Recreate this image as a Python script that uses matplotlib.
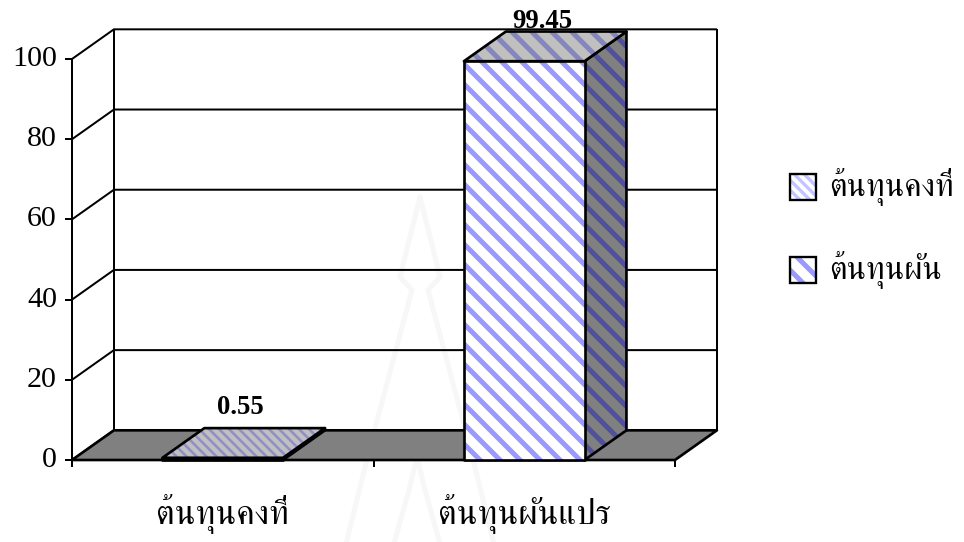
import matplotlib
matplotlib.use('Agg')
import matplotlib.pyplot as plt
from matplotlib.lines import Line2D
from matplotlib.patches import Polygon, Rectangle

plt.rcParams['font.family'] = ['Liberation Serif', 'FreeSerif', 'DejaVu Sans']

categories = ['ต้นทุนคงที่', 'ต้นทุนผันแปร']
values = [0.55, 99.45]
legend_labels = ['ต้นทุนคงที่', 'ต้นทุนผัน']
y_ticks = [0, 20, 40, 60, 80, 100]

W, H = 965, 542
DPI = 120
depth_x = 0.139   # depth of the fake 3d box, in category units
depth_y = 7.4     # same in value units
bar_w = 0.4

fig = plt.figure(figsize=(W / DPI, H / DPI), dpi=DPI)
ax = fig.add_axes([72 / W, 1 - 460 / H, 603 / W, 401 / H])
ax.set_xlim(0, len(categories))
ax.set_ylim(0, 100)
ax.axis('off')


def face(pts, color, hatch=None, stripe=None, lw=1.6, hatch_lw=3.0, z=3):
    # hatch colour comes from the edge, so the black outline is a second patch
    if hatch:
        plt.rcParams['hatch.linewidth'] = hatch_lw
        ax.add_patch(Polygon(pts, closed=True, facecolor=color, edgecolor=stripe, hatch=hatch,
                             linewidth=0, clip_on=False, zorder=z))
    else:
        ax.add_patch(Polygon(pts, closed=True, facecolor=color, edgecolor='none',
                             clip_on=False, zorder=z))
    ax.add_patch(Polygon(pts, closed=True, fill=False, edgecolor='black', linewidth=lw,
                         joinstyle='round', clip_on=False, zorder=z + 0.1))


def line(xs, ys, lw=1.2, z=2):
    ax.plot(xs, ys, color='black', lw=lw, clip_on=False, zorder=z, solid_capstyle='butt')


# faint scan watermark behind the chart, pixels from top left
mark_x = [347, 370, 412, 400, 420, 440, 428, 470, 493]
mark_y = [540, 447, 290, 277, 197, 277, 290, 447, 540]
inner_x = [395, 409, 417, 425, 439]
inner_y = [540, 490, 457, 490, 540]
for xs, ys in [(mark_x, mark_y), (inner_x, inner_y)]:
    fig.add_artist(Line2D([x / W for x in xs], [1 - y / H for y in ys], color='#F7F7F7', lw=3, zorder=0))

n = len(categories)

# walls and grid
for t in y_ticks:
    line([0, depth_x, n + depth_x], [t, t + depth_y, t + depth_y])
line([0, 0], [0, 100], lw=1.2, z=5)
line([depth_x, depth_x], [depth_y, 100 + depth_y])
line([n + depth_x, n + depth_x], [depth_y, 100 + depth_y])

# floor
face([(0, 0), (n, 0), (n + depth_x, depth_y), (depth_x, depth_y)], '#808080', lw=1.6, z=2.5)

# ticks
for t in y_ticks:
    ax.plot([0], [t], marker=0, ms=4.2, mew=1.2, color='black', clip_on=False, zorder=5)
    ax.text(-0.05, t, str(t), ha='right', va='center', fontsize=18, zorder=5)
for i in range(n + 1):
    ax.plot([i], [0], marker=3, ms=4, mew=1.2, color='black', clip_on=False, zorder=5)
for i, c in enumerate(categories):
    ax.text(i + 0.5, -13.4, c, ha='center', va='center', fontsize=20.6, zorder=5)

# bars, the small one gets the fine pattern
hatches = ['\\\\\\\\', '\\\\']
stripes_w = [1.6, 3.0]
for i, v in enumerate(values):
    x0, x1 = i + 0.5 - bar_w / 2, i + 0.5 + bar_w / 2
    hatch, hlw = hatches[i], stripes_w[i]
    top_stripe = '#9090C8' if i == 0 else '#8585C0'
    face([(x1, 0), (x1 + depth_x, depth_y), (x1 + depth_x, v + depth_y), (x1, v)],
         '#808080', hatch, '#50509C', hatch_lw=hlw, z=3)
    face([(x0, v), (x1, v), (x1 + depth_x, v + depth_y), (x0 + depth_x, v + depth_y)],
         '#C0C0C0', hatch, top_stripe, hatch_lw=hlw, z=3.2)
    face([(x0, 0), (x1, 0), (x1, v), (x0, v)],
         'white', hatch, '#9999FF', hatch_lw=hlw, z=3.4)
    # labels sit above the box, Excel pushes the tall one down against the chart top
    ax.text(i + 0.5 + depth_x / 2 - 0.01, min(v + depth_y + 2.0, 106.2), f'{v:g}', ha='center', va='bottom',
            fontsize=16, fontweight='bold', zorder=1.5 if i else 6)

# legend
leg_tops = [174, 257]
leg_stripes = ['#C4C4FF', '#9999FF']
for i, lab in enumerate(legend_labels):
    y0 = 1 - (leg_tops[i] + 26) / H
    plt.rcParams['hatch.linewidth'] = 2.0 if i == 0 else 3.0
    fig.add_artist(Rectangle((790 / W, y0), 26 / W, 26 / H, transform=fig.transFigure,
                             facecolor='white', edgecolor=leg_stripes[i], hatch=hatches[i], linewidth=0))
    fig.add_artist(Rectangle((790 / W, y0), 26 / W, 26 / H, transform=fig.transFigure,
                             fill=False, edgecolor='black', linewidth=1.4))
    fig.text(829 / W, y0 + 13 / H, lab, ha='left', va='center', fontsize=19.4)

fig.savefig('out.png', dpi=DPI)
